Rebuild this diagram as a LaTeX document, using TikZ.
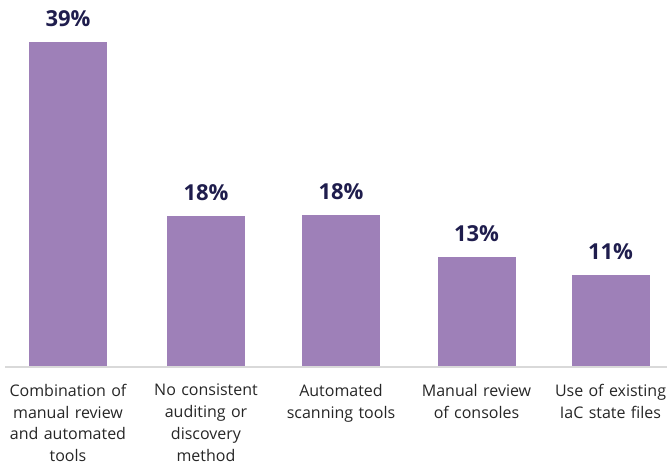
\documentclass[tikz,border=0pt]{standalone}
\usepackage{fontspec}
\setmainfont{Open Sans}
\usetikzlibrary{positioning}
\definecolor{barpurple}{HTML}{9E80B8}
\definecolor{pctnavy}{HTML}{1F1D4D}
\definecolor{labelgrey}{HTML}{262626}
\definecolor{axisgrey}{HTML}{D9D9D9}
\tikzstyle{bar} = [rectangle, fill=barpurple, minimum width=78pt, inner sep=0pt, anchor=south]
\tikzstyle{pct} = [font=\bfseries\fontsize{22}{26}\selectfont, text=pctnavy, inner sep=0pt]
\tikzstyle{cat} = [font=\fontsize{16}{21.7}\selectfont, text=labelgrey, text width=140pt, align=center, inner sep=0pt]

\begin{document}
\begin{tikzpicture}[x=1pt, y=-1pt]
	\useasboundingbox (0,0) rectangle (667,466);
	%axis
	\coordinate (axl) at (5,367);
	\coordinate (axr) at (667,367);
	\draw [axisgrey, line width=1.5pt] (axl) -- (axr);
	%bars
	\node (b1) [bar, minimum height=324pt] at (68,366) {};
	\node (b2) [bar, minimum height=150pt] at (206,366) {};
	\node (b3) [bar, minimum height=151pt] at (341,366) {};
	\node (b4) [bar, minimum height=109pt] at (476.5,366) {};
	\node (b5) [bar, minimum height=91pt] at (610.5,366) {};
	%values
	\node (v1) [pct, above=15pt of b1] {39\%};
	\node (v2) [pct, above=15pt of b2] {18\%};
	\node (v3) [pct, above=15pt of b3] {18\%};
	\node (v4) [pct, above=15pt of b4] {13\%};
	\node (v5) [pct, above=15pt of b5] {11\%};
	%labels
	\node (c1) [cat, below=18pt of b1] {Combination of\\manual review\\and automated\\tools};
	\node (c2) [cat, below=18pt of b2] {No consistent\\auditing or\\discovery\\method};
	\node (c3) [cat, below=18pt of b3] {Automated\\scanning tools};
	\node (c4) [cat, below=18pt of b4] {Manual review\\of consoles};
	\node (c5) [cat, below=18pt of b5] {Use of existing\\IaC state files};
\end{tikzpicture}
\end{document}
